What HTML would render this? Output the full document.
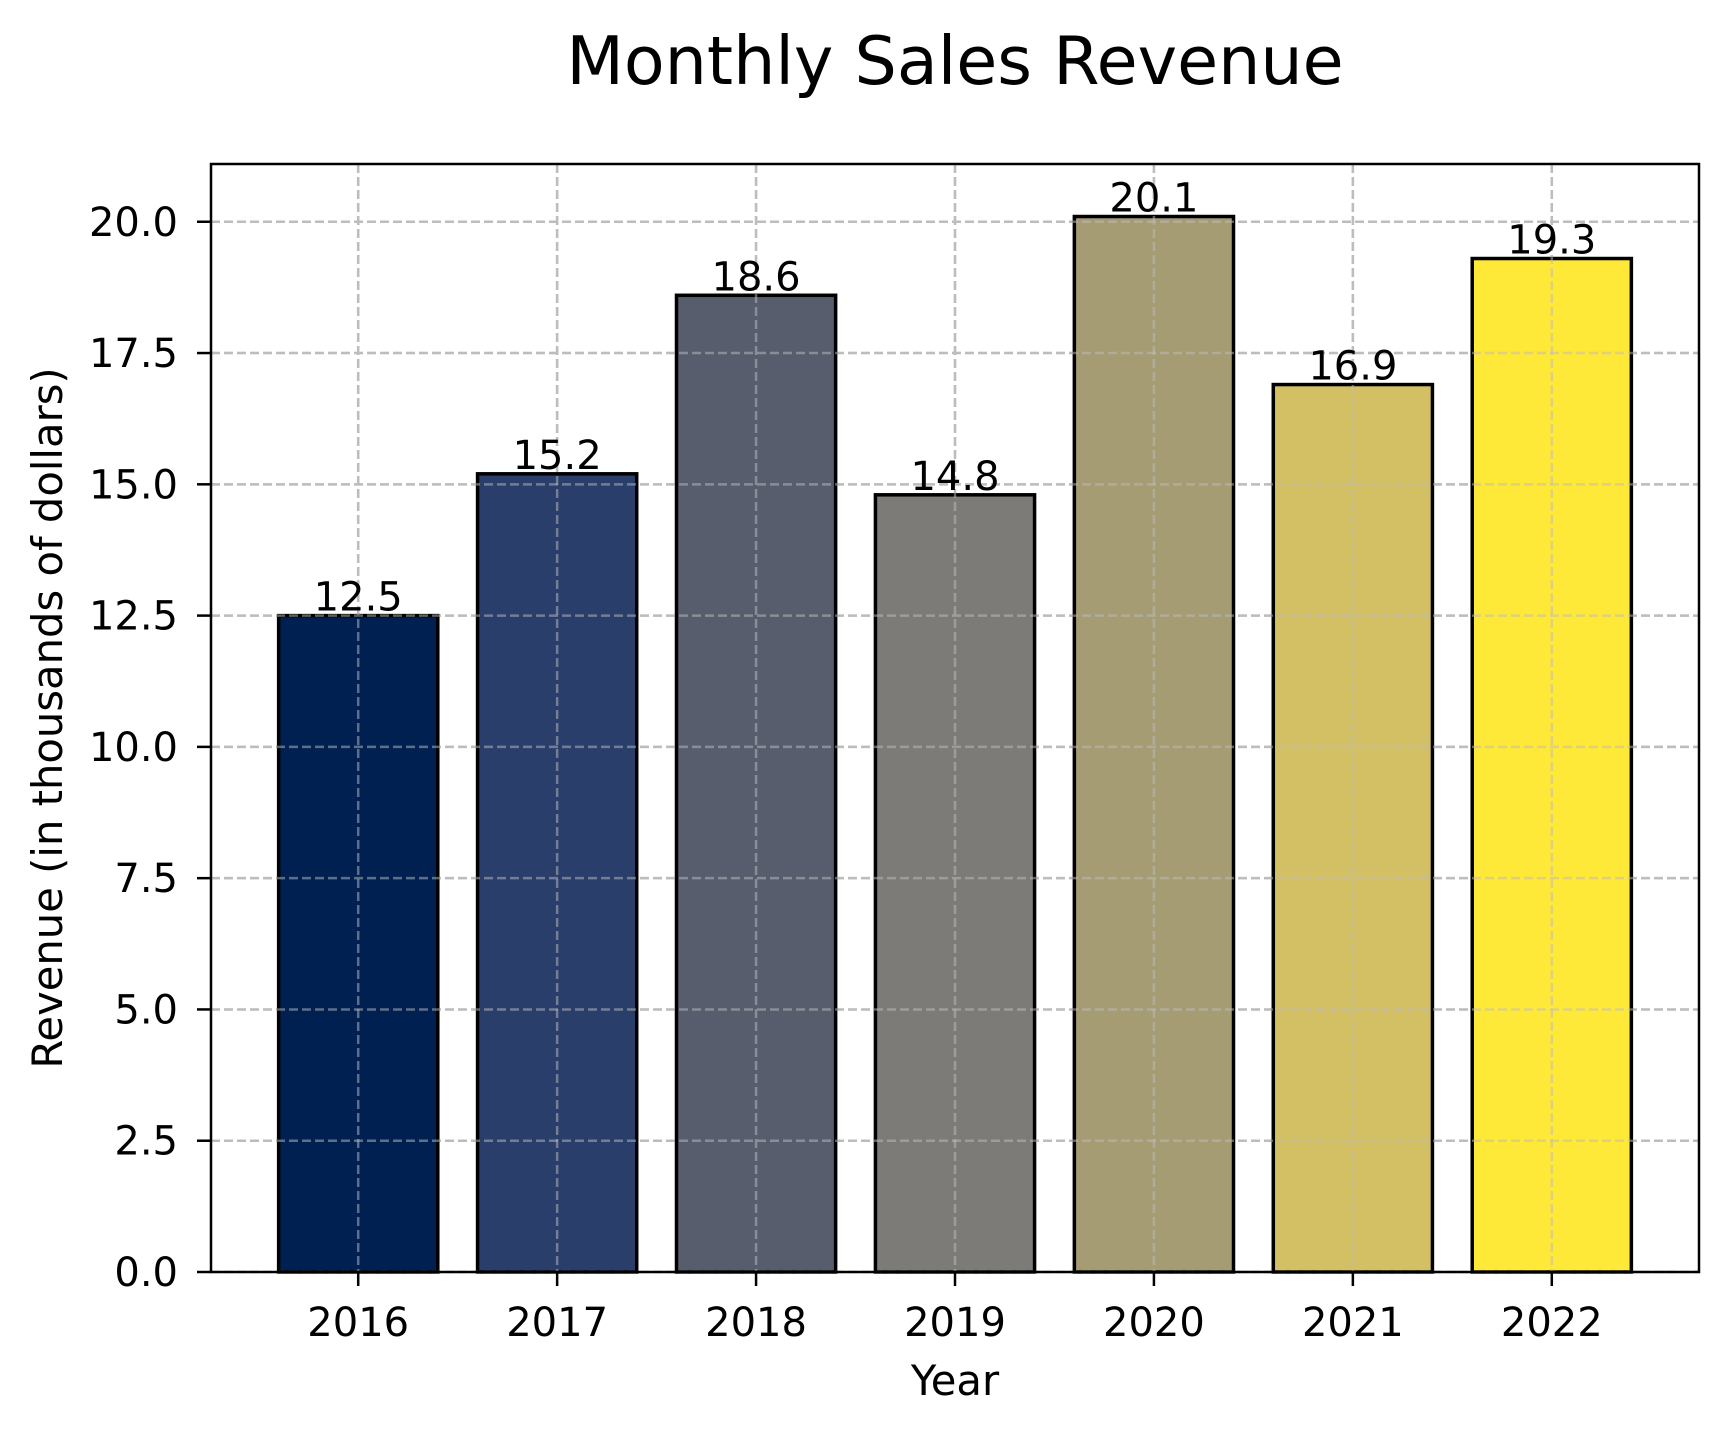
<!DOCTYPE html>
<html><head><meta charset="utf-8"><style>
html,body{margin:0;padding:0;background:#fff}
svg text{font-family:"DejaVu Sans","Liberation Sans",sans-serif;fill:#000}
</style></head><body>
<svg id="chart" width="1728" height="1433" viewBox="0 0 1728 1433" xmlns="http://www.w3.org/2000/svg">
<rect width="1728" height="1433" fill="#fff"/>
<text x="955" y="84" font-size="66.7" text-anchor="middle">Monthly Sales Revenue</text>
<g id="grid"></g>
<g id="bars"></g>
<g id="gridover"></g>
<g id="labels"></g>
<g id="ticks"></g>
<rect x="211" y="164" width="1488" height="1108" fill="none" stroke="#000" stroke-width="2.5"/>
<text x="955" y="1395" font-size="41.7" text-anchor="middle">Year</text>
<text transform="translate(62,718) rotate(-90)" font-size="41.7" text-anchor="middle">Revenue (in thousands of dollars)</text>
</svg>
<script>
const categories = ["2016","2017","2018","2019","2020","2021","2022"];
const revenue = [12.5, 15.2, 18.6, 14.8, 20.1, 16.9, 19.3];
const valueLabels = ["12.5","15.2","18.6","14.8","20.1","16.9","19.3"];
const yTicks = [0, 2.5, 5, 7.5, 10, 12.5, 15, 17.5, 20];
const yTickLabels = ["0.0","2.5","5.0","7.5","10.0","12.5","15.0","17.5","20.0"];
const barColors = ["#002051","#2a3e6b","#575d6d","#7c7b78","#a59c74","#d3c064","#fee838"];

const NS = "http://www.w3.org/2000/svg";
const L = 211, R = 1699, T = 164, B = 1272;
const xMin = -0.74, xMax = 6.74, yMin = 0, yMax = 21.1;
const xs = i => L + (i - xMin) / (xMax - xMin) * (R - L);
const ys = v => B - (v - yMin) / (yMax - yMin) * (B - T);
const step = (R - L) / (xMax - xMin);
function mk(tag, attrs, parent) {
  const e = document.createElementNS(NS, tag);
  for (const k in attrs) e.setAttribute(k, attrs[k]);
  parent.appendChild(e);
  return e;
}
const grid = document.getElementById('grid');
const bars = document.getElementById('bars');
const gridover = document.getElementById('gridover');
const labels = document.getElementById('labels');
const ticks = document.getElementById('ticks');

[grid, gridover].forEach((g, gi) => {
  yTicks.forEach(v => {
    const ln = mk('line', {x1: L, x2: R, y1: ys(v), y2: ys(v), stroke: '#bdbdbd', 'stroke-width': 2.5, 'stroke-dasharray': '9,4', opacity: gi ? 0.5 : 1}, g);
    
    
  });
  categories.forEach((c, i) => {
    const ln = mk('line', {x1: xs(i), x2: xs(i), y1: T, y2: B, stroke: '#bdbdbd', 'stroke-width': 2.5, 'stroke-dasharray': '9,4', opacity: gi ? 0.5 : 1}, g);
    
    
  });
});

categories.forEach((c, i) => {
  const w = step * 0.8;
  const r = mk('rect', {x: xs(i) - w / 2, y: ys(revenue[i]), width: w, height: ys(0) - ys(revenue[i]), fill: barColors[i], stroke: '#000', 'stroke-width': 3.5}, bars);
  
  
  const t = mk('text', {x: xs(i), y: ys(revenue[i]) - 5, 'font-size': 40, 'text-anchor': 'middle'}, labels);
  t.textContent = valueLabels[i];
  
  
  const tk = mk('line', {x1: xs(i), x2: xs(i), y1: B, y2: B + 14, stroke: '#000', 'stroke-width': 2.5}, ticks);
  
  
  const tl = mk('text', {x: xs(i), y: 1336, 'font-size': 40, 'text-anchor': 'middle'}, ticks);
  tl.textContent = c;
  
  
});

yTicks.forEach((v, i) => {
  const tk = mk('line', {x1: L - 14, x2: L, y1: ys(v), y2: ys(v), stroke: '#000', 'stroke-width': 2.5}, ticks);
  
  
  const tl = mk('text', {x: 178, y: ys(v) + 14, 'font-size': 40, 'text-anchor': 'end'}, ticks);
  tl.textContent = yTickLabels[i];
  
  
});
</script>
</body></html>
